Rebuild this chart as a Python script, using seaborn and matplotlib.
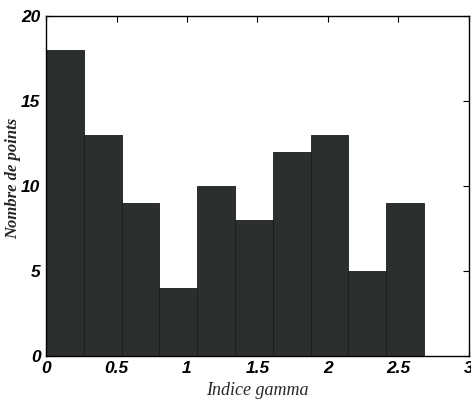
import numpy as np
import pandas as pd
import matplotlib
matplotlib.use("Agg")
import matplotlib.pyplot as plt
import seaborn as sns

# Data
bin_centers = [0.134, 0.402, 0.670, 0.938, 1.206, 1.474, 1.742, 2.010, 2.278, 2.546]
counts = [18, 13, 9, 4, 10, 8, 12, 13, 5, 9]
bin_edges = [0.0, 0.268, 0.536, 0.804, 1.072, 1.340, 1.608, 1.876, 2.144, 2.412, 2.680]
x_ticks = [0, 0.5, 1, 1.5, 2, 2.5, 3]
x_ticklabels = ["0", "0.5", "1", "1.5", "2", "2.5", "3"]
y_ticks = [0, 5, 10, 15, 20]

df = pd.DataFrame({"gamma": bin_centers, "n": counts})

sns.set_style("white")
plt.rcParams["font.family"] = ["Liberation Sans Narrow", "Liberation Sans", "DejaVu Sans"]

fig = plt.figure(figsize=(4.71, 4.04), dpi=100)
ax = fig.add_axes([0.0977, 0.119, 0.898, 0.841])

sns.histplot(data=df, x="gamma", weights="n", bins=bin_edges, ax=ax,
             color="#2c2f30", edgecolor="#1a1c1c", linewidth=0.6, alpha=1.0)

ax.set_xlim(0, 3)
ax.set_ylim(0, 20)
ax.set_xticks(x_ticks)
ax.set_xticklabels(x_ticklabels)
ax.set_yticks(y_ticks)

for lab in ax.get_xticklabels() + ax.get_yticklabels():
    lab.set_fontstyle("italic")
    lab.set_fontweight("bold")
    lab.set_fontsize(12.5)

ax.tick_params(direction="in", length=4, width=0.8, top=True, right=True,
               bottom=True, left=True, pad=4, colors="black")
for s in ax.spines.values():
    s.set_visible(True)
    s.set_color("black")
    s.set_linewidth(1.0)

ax.set_xlabel("Indice gamma", fontsize=13, fontstyle="italic",
              family=["Liberation Serif", "DejaVu Serif"], labelpad=4)
ax.set_ylabel("Nombre de points", fontsize=12, fontstyle="italic",
              fontweight="bold", family=["Liberation Serif", "DejaVu Serif"])
ax.yaxis.set_label_coords(-0.058, 0.524)

fig.savefig("out.png", dpi=100)
